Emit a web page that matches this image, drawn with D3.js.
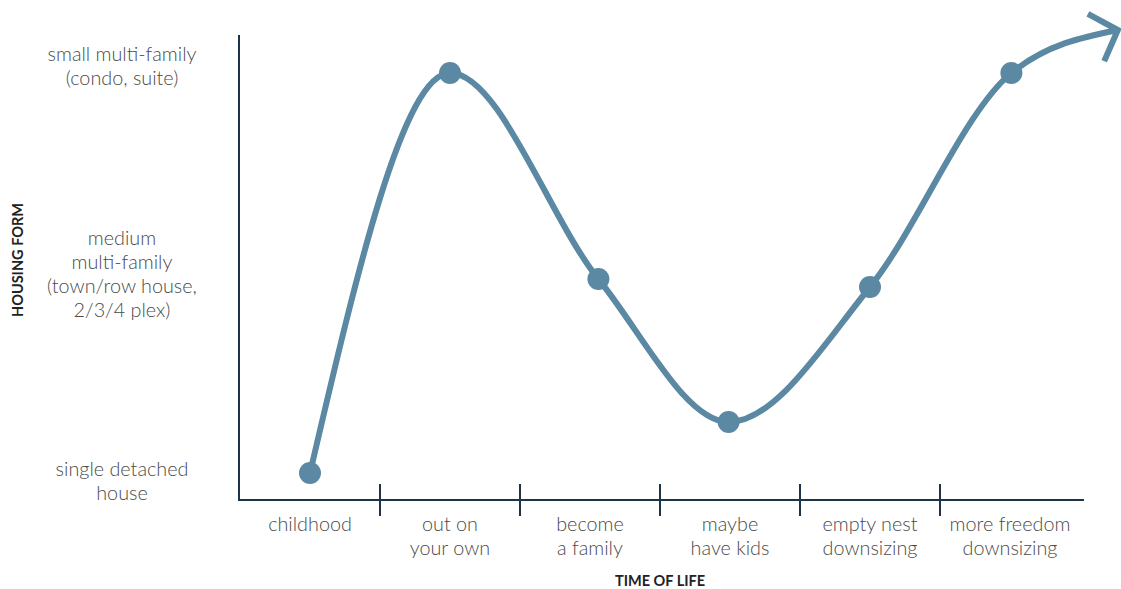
<!DOCTYPE html>
<html>
<head>
<meta charset="utf-8">
<script src="https://cdn.jsdelivr.net/npm/d3@7"></script>
<style>
  html, body { margin: 0; padding: 0; background: #fff; }
  svg { display: block; }
  text { font-family: Lato, "Open Sans", sans-serif; }
</style>
</head>
<body>
<svg id="chart" width="1121" height="589"></svg>
<script>
// ---- data ----
const categories = [
  ["childhood"],
  ["out on", "your own"],
  ["become", "a family"],
  ["maybe", "have kids"],
  ["empty nest", "downsizing"],
  ["more freedom", "downsizing"]
];
const housingLevels = [
  ["single detached", "house"],
  ["medium", "multi-family", "(town/row house,", "2/3/4 plex)"],
  ["small multi-family", "(condo, suite)"]
];
const lifePosition = [0, 1, 2.06, 2.99, 4, 5.01];
const housingValue = [0, 2, 0.97, 0.255, 0.93, 2];
const arrowEnd = { pos: 5.77, value: 2.215 };

// ---- layout ----
const W = 1121, H = 589;
const svg = d3.select("#chart");
const lineColor = "#5b88a2";
const axisColor = "#1d3347";
const textColor = "#4a4a4a";

const x = d3.scaleLinear().domain([-0.5, 5.5]).range([240, 1080]);
const y = d3.scaleLinear().domain([0, 2]).range([473, 73]);
const yLabel = d3.scaleLinear().domain([0, 2]).range([481, 66]);

const axisY = 500, axisLeft = 239, axisRight = 1084, axisTop = 35;

// axes
svg.append("line").attr("x1", axisLeft).attr("x2", axisLeft)
  .attr("y1", axisTop).attr("y2", axisY + 1)
  .attr("stroke", axisColor).attr("stroke-width", 2);
svg.append("line").attr("x1", axisLeft).attr("x2", axisRight)
  .attr("y1", axisY).attr("y2", axisY)
  .attr("stroke", axisColor).attr("stroke-width", 2);

const boundaries = d3.range(categories.length - 1).map(i => i + 0.5);
svg.selectAll("line.tick").data(boundaries).join("line")
  .attr("class", "tick")
  .attr("x1", d => x(d)).attr("x2", d => x(d))
  .attr("y1", axisY - 16).attr("y2", axisY + 16)
  .attr("stroke", axisColor).attr("stroke-width", 2);

// x category labels
const fs = 19.8, lh = 24;
categories.forEach((lines, i) => {
  const t = svg.append("text")
    .attr("x", x(i)).attr("y", 531)
    .attr("text-anchor", "middle")
    .attr("fill", textColor)
    .attr("font-weight", 300)
    .attr("font-size", fs);
  lines.forEach((l, j) => {
    t.append("tspan").attr("x", x(i)).attr("dy", j === 0 ? 0 : lh).text(l);
  });
});

// y level labels
housingLevels.forEach((lines, i) => {
  const cy = yLabel(i);
  const firstBaseline = cy - (lines.length - 1) * lh / 2 + 7;
  const t = svg.append("text")
    .attr("x", 122).attr("y", firstBaseline)
    .attr("text-anchor", "middle")
    .attr("fill", textColor)
    .attr("font-weight", 300)
    .attr("font-size", fs);
  lines.forEach((l, j) => {
    t.append("tspan").attr("x", 122).attr("dy", j === 0 ? 0 : lh).text(l);
  });
});

// axis titles
svg.append("text")
  .attr("transform", "translate(23,260) rotate(-90)")
  .attr("text-anchor", "middle")
  .attr("font-size", 14.5).attr("font-weight", "bold")
  .attr("fill", "#222")
  .text("HOUSING FORM");
svg.append("text")
  .attr("x", 660).attr("y", 586)
  .attr("text-anchor", "middle")
  .attr("font-size", 14.5).attr("font-weight", "bold")
  .attr("fill", "#222")
  .text("TIME OF LIFE");

// arrow marker
const defs = svg.append("defs");
defs.append("marker")
  .attr("id", "arrow")
  .attr("markerUnits", "userSpaceOnUse")
  .attr("viewBox", "-40 -40 60 80")
  .attr("refX", 0).attr("refY", 0)
  .attr("markerWidth", 60).attr("markerHeight", 80)
  .attr("orient", -19)
  .style("overflow", "visible")
  .append("path")
  .attr("d", "M-23,-25L0,0L-23,25")
  .attr("fill", "none")
  .attr("stroke", lineColor)
  .attr("stroke-width", 6)
  .attr("stroke-linejoin", "miter");

// curve
const pts = lifePosition.map((p, i) => [p, housingValue[i]]);
const curvePts = pts.concat([[arrowEnd.pos, arrowEnd.value]]);
const line = d3.line()
  .x(d => x(d[0])).y(d => y(d[1]))
  .curve(d3.curveMonotoneX);
svg.append("path")
  .datum(curvePts)
  .attr("d", line)
  .attr("fill", "none")
  .attr("stroke", lineColor)
  .attr("stroke-width", 6)
  .attr("marker-end", "url(#arrow)");

// points
svg.selectAll("circle.pt").data(pts).join("circle")
  .attr("class", "pt")
  .attr("cx", d => x(d[0])).attr("cy", d => y(d[1]))
  .attr("r", 11)
  .attr("fill", lineColor);
</script>
</body>
</html>
